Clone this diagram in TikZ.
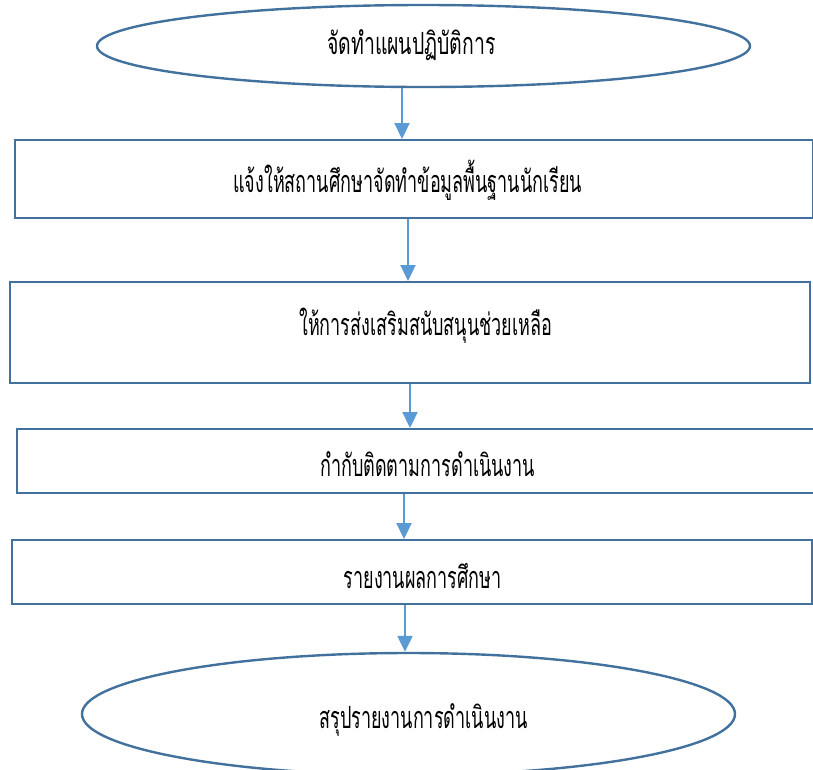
\documentclass[tikz,border=0pt]{standalone}
\usepackage{fontspec}
\newfontfamily\thaifont[Script=Thai]{Loma}
\usetikzlibrary{shapes.geometric,arrows.meta}
\definecolor{edgeblue}{HTML}{41719C}
\definecolor{arrowblue}{HTML}{5B9BD5}
\newcommand{\tallthai}[1]{\scalebox{1}[1.7]{\thaifont\fontsize{18}{22}\selectfont #1}}
\begin{document}
\begin{tikzpicture}[x=1pt,y=-1pt,
  txt/.style={inner sep=0pt},
  box/.style={draw=edgeblue,line width=2.4pt,rectangle,inner sep=0pt,anchor=north west},
  oval/.style={draw=edgeblue,line width=2.4pt,ellipse,inner sep=0pt},
  arr/.style={draw=arrowblue,line width=2.3pt,-{Triangle[length=16pt,width=15pt]}}]
\useasboundingbox (0,0) rectangle (813,769);
\clip (0,0) rectangle (813,769);
\node[oval,minimum width=653pt,minimum height=82pt] (e1) at (423.5,46) {};
\node[txt,xshift=-12pt,yshift=1pt] (t0) at (e1.center) {\scalebox{1.08}[1]{\tallthai{จัดทำแผนปฏิบัติการ}}};
\node[box,minimum width=798pt,minimum height=78pt] (b1) at (14,139) {};
\node[txt,xshift=-6.5pt,yshift=-1pt] (t1) at (b1.center) {\tallthai{แจ้งให้สถานศึกษาจัดทำข้อมูลพื้นฐานนักเรียน}};
\node[box,minimum width=800pt,minimum height=101pt] (b2) at (9,281) {};
\node[txt,xshift=15.5pt,yshift=7pt] (t2) at (b2.center) {\tallthai{ให้การส่งเสริมสนับสนุนช่วยเหลือ}};
\node[box,minimum width=797pt,minimum height=64pt] (b3) at (16,428) {};
\node[txt,xshift=12pt,yshift=-3pt] (t3) at (b3.center) {\tallthai{กำกับติดตามการดำเนินงาน}};
\node[box,minimum width=800pt,minimum height=64pt] (b4) at (11,539) {};
\node[txt,xshift=10.5pt,yshift=-4pt] (t4) at (b4.center) {\tallthai{รายงานผลการศึกษา}};
\node[oval,minimum width=653pt,minimum height=122pt] (e2) at (408.5,714) {};
\node[txt,xshift=15pt,yshift=-6pt] (t5) at (e2.center) {\tallthai{สรุปรายงานการดำเนินงาน}};
\coordinate (x1) at (402,0);
\coordinate (x2) at (408,0);
\coordinate (x3) at (410,0);
\coordinate (x4) at (404,0);
\coordinate (x5) at (405,0);
\draw[arr] (e1.south -| x1) -- (b1.north -| x1);
\draw[arr] (b1.south -| x2) -- (b2.north -| x2);
\draw[arr] (b2.south -| x3) -- (b3.north -| x3);
\draw[arr] (b3.south -| x4) -- (b4.north -| x4);
\draw[arr] (b4.south -| x5) -- (e2.north -| x5);
\end{tikzpicture}
\end{document}
